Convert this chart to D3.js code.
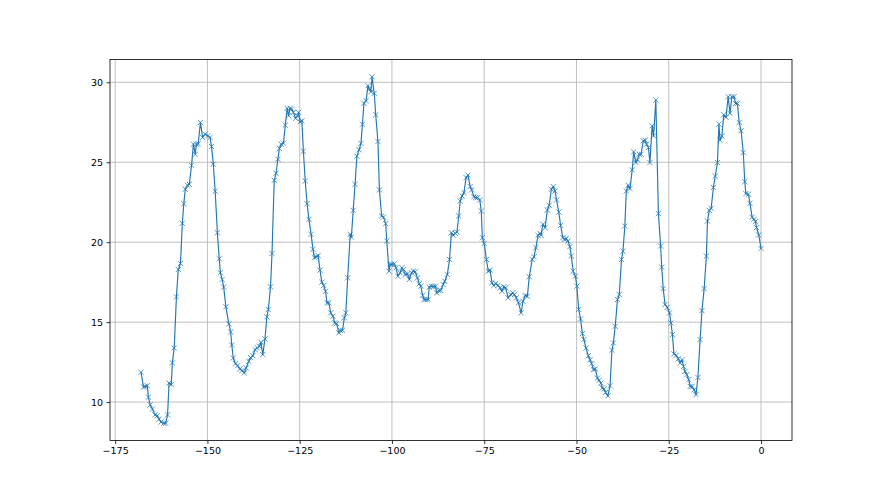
<!DOCTYPE html>
<html>
<head>
<meta charset="utf-8">
<script src="https://cdn.jsdelivr.net/npm/d3@7"></script>
<style>
  html, body { margin: 0; padding: 0; background: #ffffff; }
  svg { display: block; }
  .tick text { font-family: "DejaVu Sans", sans-serif; font-size: 9.5px; fill: #000; }
</style>
</head>
<body>
<svg id="chart" width="880" height="495"></svg>
<script>
// ---- data ----
const xValues = [
  -168.0,-167.3,-166.9,-166.3,-166.0,-165.5,-164.9,-164.2,-163.6,-163.1,-162.6,-161.8,-161.3,-160.8,-160.4,-159.8,-159.5,-159.0,-158.4,-157.9,
  -157.3,-156.8,-156.4,-156.0,-155.4,-154.9,-154.3,-153.8,-153.3,-153.0,-152.5,-151.9,-151.3,-150.6,-149.9,-149.3,-148.9,-148.4,-147.9,-147.3,
  -146.8,-146.5,-146.0,-145.6,-145.0,-144.2,-143.7,-143.4,-143.0,-142.4,-141.8,-141.2,-140.6,-140.0,-139.5,-138.8,-138.3,-137.7,-137.1,-136.5,
  -135.9,-135.5,-135.0,-134.4,-133.9,-133.5,-132.9,-132.5,-131.9,-131.4,-130.9,-130.5,-130.0,-129.4,-128.9,-128.4,-128.0,-127.6,-127.2,-126.7,
  -126.1,-125.6,-125.3,-124.9,-124.4,-124.0,-123.5,-123.0,-122.5,-121.9,-121.4,-121.0,-120.5,-120.0,-119.5,-119.0,-118.5,-118.0,-117.6,-117.1,
  -116.6,-116.0,-115.5,-115.0,-114.4,-114.0,-113.4,-112.9,-112.5,-112.0,-111.3,-111.0,-110.5,-110.0,-109.5,-108.9,-108.4,-108.0,-107.6,-107.0,
  -106.5,-106.1,-105.7,-105.4,-104.8,-104.4,-103.8,-103.4,-102.8,-102.3,-101.7,-101.4,-100.8,-100.5,-100.1,-99.4,-98.9,-98.4,-97.8,-97.3,
  -96.9,-96.4,-95.8,-95.3,-94.7,-94.2,-93.7,-93.1,-92.6,-92.2,-91.7,-91.3,-90.8,-90.2,-89.9,-89.3,-88.8,-88.2,-87.9,-87.3,
  -86.8,-86.1,-85.7,-85.0,-84.4,-83.9,-83.4,-82.8,-82.4,-81.9,-81.5,-81.0,-80.5,-79.9,-79.4,-78.8,-78.4,-77.8,-77.3,-76.8,
  -76.2,-75.8,-75.5,-75.0,-74.4,-73.9,-73.4,-72.9,-72.4,-71.9,-71.3,-70.7,-70.2,-69.7,-69.2,-68.5,-67.8,-67.3,-66.8,-66.3,
  -65.7,-65.0,-64.5,-63.9,-63.3,-62.8,-62.0,-61.5,-61.0,-60.4,-59.9,-59.6,-59.1,-58.5,-57.9,-57.4,-56.8,-56.3,-55.8,-55.4,
  -54.8,-54.3,-53.7,-53.3,-52.8,-52.3,-51.8,-51.4,-50.9,-50.3,-49.9,-49.4,-48.9,-48.4,-48.0,-47.4,-46.8,-46.3,-45.9,-45.4,
  -44.9,-44.3,-43.9,-43.4,-43.0,-42.5,-42.1,-41.5,-40.9,-40.4,-40.0,-39.5,-38.9,-38.4,-37.8,-37.4,-36.9,-36.5,-36.0,-35.5,
  -34.9,-34.5,-33.9,-33.5,-33.0,-32.5,-31.9,-31.4,-31.0,-30.5,-30.1,-29.5,-29.1,-28.5,-27.8,-27.2,-26.9,-26.5,-26.0,-25.4,
  -24.8,-24.4,-24.0,-23.6,-23.0,-22.4,-21.9,-21.4,-21.0,-20.6,-20.1,-19.6,-19.2,-18.7,-18.1,-17.6,-17.1,-16.5,-16.0,-15.4,
  -14.8,-14.5,-14.0,-13.5,-12.9,-12.4,-11.8,-11.4,-11.1,-10.6,-10.1,-9.5,-8.9,-8.4,-7.9,-7.3,-6.9,-6.4,-5.9,-5.4,
  -4.8,-4.4,-4.1,-3.4,-3.0,-2.4,-1.9,-1.5,-1.2,-0.6,0.0
];
const yValues = [
  11.86,10.94,10.98,11.02,10.31,9.83,9.56,9.20,9.14,8.93,8.75,8.68,8.68,9.20,11.19,11.10,12.45,13.39,16.58,18.29,
  18.67,21.18,22.41,23.31,23.56,23.62,24.81,26.13,25.50,26.13,26.15,27.49,26.55,26.76,26.65,26.55,25.99,24.88,23.19,20.59,
  18.97,18.09,17.67,17.19,15.96,14.89,14.39,13.57,12.76,12.40,12.28,12.07,11.98,11.82,12.13,12.55,12.78,12.90,13.28,13.39,
  13.49,13.74,12.97,13.95,15.33,15.79,17.21,19.30,23.87,24.31,25.19,25.86,26.13,26.19,27.32,28.37,27.91,28.37,28.33,28.12,
  27.74,27.91,28.12,27.53,27.59,25.69,23.83,22.41,21.43,20.49,19.55,19.03,19.09,19.17,18.25,17.50,17.29,16.93,16.21,16.21,
  15.58,15.37,14.95,14.91,14.33,14.49,14.49,15.27,15.58,17.77,20.49,20.32,21.99,23.62,25.38,25.78,26.18,27.38,28.68,28.85,
  29.79,29.58,29.41,30.35,29.31,27.97,26.30,23.27,21.64,21.57,21.16,20.07,18.19,18.61,18.61,18.65,18.40,17.87,18.09,18.40,
  18.29,17.98,18.02,17.67,18.09,18.19,18.15,17.77,17.40,17.25,16.68,16.41,16.41,16.41,17.19,17.25,17.23,17.25,16.83,16.98,
  16.98,17.35,17.56,17.98,18.92,20.59,20.43,20.55,20.63,21.64,22.58,22.89,23.10,24.04,24.19,23.48,23.27,22.85,22.79,22.79,
  22.64,21.95,20.28,19.92,18.92,18.19,18.25,17.46,17.29,17.42,17.29,17.15,16.93,17.21,17.15,16.52,16.73,16.83,16.73,16.52,
  16.21,15.58,16.31,16.66,16.62,17.84,18.92,19.09,19.66,20.43,20.55,20.43,21.12,20.91,22.01,22.31,23.31,23.48,23.20,22.64,
  21.89,21.05,20.28,20.18,20.22,20.07,19.72,19.13,18.19,17.87,17.25,15.79,15.20,14.28,13.91,13.38,12.90,12.65,12.40,12.03,
  12.07,11.50,11.36,11.19,10.88,10.82,10.60,10.39,11.02,13.24,13.70,14.74,16.41,16.73,18.92,19.44,21.01,23.20,23.56,23.35,
  24.52,25.65,24.98,25.15,25.50,25.50,26.34,26.38,26.13,25.92,24.98,27.28,26.65,28.89,21.79,19.76,18.44,17.10,16.10,15.93,
  15.58,14.95,14.22,13.01,12.92,12.71,12.45,12.65,12.23,11.92,11.71,11.40,10.98,10.98,10.77,10.46,11.54,13.91,15.72,17.10,
  19.13,21.32,21.99,22.12,23.42,24.14,24.98,27.38,26.38,26.65,27.97,27.81,29.10,28.06,29.10,29.10,28.68,28.68,27.49,26.97,
  25.61,23.79,23.04,23.00,22.43,21.57,21.43,21.29,20.91,20.45,19.61
];
const xTicks = [-175, -150, -125, -100, -75, -50, -25, 0];
const yTicks = [10, 15, 20, 25, 30];

// ---- layout ----
const plot = { left: 110, right: 792, top: 59.4, bottom: 440.5 };
const svg = d3.select("#chart");
const points = xValues.map((x, i) => ({ x: x, y: yValues[i] }));

function padded(ext) { const s = ext[1] - ext[0]; return [ext[0] - 0.05 * s, ext[1] + 0.05 * s]; }
const x = d3.scaleLinear().domain(padded(d3.extent(xValues))).range([plot.left, plot.right]);
const y = d3.scaleLinear().domain(padded(d3.extent(yValues))).range([plot.bottom, plot.top]);

const fmt = d => (d < 0 ? "\u2212" + Math.abs(d) : String(d));

// grid
const grid = svg.append("g");
grid.selectAll("line.gx").data(xTicks).enter().append("line")
  .attr("x1", d => x(d)).attr("x2", d => x(d))
  .attr("y1", plot.top).attr("y2", plot.bottom)
  .attr("stroke", "#b0b0b0").attr("stroke-width", 0.8);
grid.selectAll("line.gy").data(yTicks).enter().append("line")
  .attr("x1", plot.left).attr("x2", plot.right)
  .attr("y1", d => y(d)).attr("y2", d => y(d))
  .attr("stroke", "#b0b0b0").attr("stroke-width", 0.8);

// line
const color = "#1f77b4";
svg.append("path").datum(points)
  .attr("fill", "none").attr("stroke", color).attr("stroke-width", 1.15)
  .attr("stroke-linejoin", "round").attr("stroke-linecap", "square")
  .attr("d", d3.line().x(d => x(d.x)).y(d => y(d.y)));

// x markers
const ms = 2.6;
const mk = svg.append("g").attr("stroke", color).attr("stroke-width", 0.75).attr("fill", "none");
mk.selectAll("path").data(points).enter().append("path")
  .attr("d", d => {
    const cx = x(d.x), cy = y(d.y);
    return `M${cx - ms},${cy - ms}L${cx + ms},${cy + ms}M${cx - ms},${cy + ms}L${cx + ms},${cy - ms}`;
  });

// axes
const xAxis = d3.axisBottom(x).tickValues(xTicks).tickFormat(fmt).tickSize(3.5).tickPadding(3.5);
const yAxis = d3.axisLeft(y).tickValues(yTicks).tickFormat(fmt).tickSize(3.5).tickPadding(3.5);
const gx = svg.append("g").attr("transform", `translate(0,${plot.bottom})`).call(xAxis);
const gy = svg.append("g").attr("transform", `translate(${plot.left},0)`).call(yAxis);
[gx, gy].forEach(g => {
  g.select(".domain").remove();
  g.selectAll(".tick line").attr("stroke", "#000").attr("stroke-width", 0.8);
});

// frame (spines)
svg.append("rect")
  .attr("x", plot.left).attr("y", plot.top)
  .attr("width", plot.right - plot.left).attr("height", plot.bottom - plot.top)
  .attr("fill", "none").attr("stroke", "#000").attr("stroke-width", 0.8);
</script>
</body>
</html>
